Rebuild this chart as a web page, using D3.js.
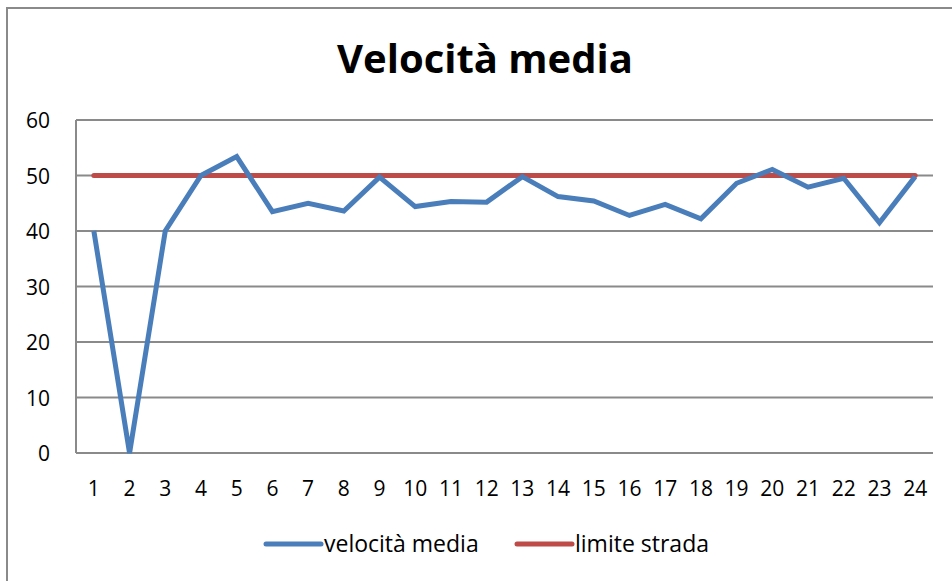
<!DOCTYPE html>
<html>
<head>
<meta charset="utf-8">
<script src="https://cdn.jsdelivr.net/npm/d3@7"></script>
<style>
  body { margin: 0; background: #fff; }
  text { font-family: "Open Sans", "Liberation Sans", sans-serif; fill: #000; }
</style>
</head>
<body>
<div id="chart"></div>
<script>
// data
var categories = d3.range(1, 25).map(String);
var velocita = [40, 0, 40, 50, 53.4, 43.5, 45, 43.6, 49.7, 44.4, 45.3, 45.2,
                49.8, 46.2, 45.4, 42.8, 44.8, 42.2, 48.6, 51.1, 47.9, 49.5, 41.5, 49.8];
var limite = categories.map(function() { return 50; });
var yTicks = [0, 10, 20, 30, 40, 50, 60];
var seriesNames = ["velocità media", "limite strada"];
var seriesColors = ["#4a7ebb", "#be4b48"];

var W = 952, H = 581;
var plot = {left: 76, right: 933, top: 120, bottom: 453};

var svg = d3.select("#chart").append("svg")
    .attr("width", W)
    .attr("height", H);

// outer frame
svg.append("rect")
    .attr("x", 7).attr("y", 8)
    .attr("width", W + 20).attr("height", H + 20)
    .attr("fill", "#fff")
    .attr("stroke", "#8a8a8a")
    .attr("stroke-width", 2);

var x = d3.scaleBand()
    .domain(categories)
    .range([plot.left, plot.right]);

var y = d3.scaleLinear()
    .domain([0, 60])
    .range([plot.bottom, plot.top]);

// title
svg.append("text")
    .attr("x", 485)
    .attr("y", 73)
    .attr("text-anchor", "middle")
    .style("font-size", "40px")
    .style("font-weight", "bold")
    .text("Velocità media");

// gridlines
svg.append("g")
  .selectAll("line")
  .data(yTicks)
  .enter().append("line")
    .attr("x1", plot.left).attr("x2", plot.right)
    .attr("y1", function(d) { return y(d); })
    .attr("y2", function(d) { return y(d); })
    .attr("stroke", "#8a8a8a")
    .attr("stroke-width", 2);

// left axis line
svg.append("line")
    .attr("x1", plot.left).attr("x2", plot.left)
    .attr("y1", plot.top).attr("y2", plot.bottom)
    .attr("stroke", "#8a8a8a")
    .attr("stroke-width", 2);

// y axis labels
var yAxis = svg.append("g")
    .attr("transform", "translate(" + (plot.left - 26) + ",0)")
    .call(d3.axisLeft(y).tickValues(yTicks).tickSize(0).tickPadding(0));
yAxis.select(".domain").remove();
yAxis.selectAll("text")
    .attr("dy", "0.36em")
    .style("font-size", "21px")
    .style("font-family", "'Open Sans', sans-serif");

// x axis labels
var xAxis = svg.append("g")
    .attr("transform", "translate(0," + plot.bottom + ")")
    .call(d3.axisBottom(x).tickSize(0).tickPadding(0));
xAxis.select(".domain").remove();
xAxis.selectAll("text")
    .attr("y", 43)
    .attr("dy", 0)
    .style("font-size", "21px")
    .style("font-family", "'Open Sans', sans-serif");

var line = d3.line()
    .x(function(d, i) { return x(categories[i]) + x.bandwidth() / 2; })
    .y(function(d) { return y(d); });

svg.append("path")
    .datum(limite)
    .attr("d", line)
    .attr("fill", "none")
    .attr("stroke", seriesColors[1])
    .attr("stroke-width", 5)
    .attr("stroke-linecap", "round");

svg.append("path")
    .datum(velocita)
    .attr("d", line)
    .attr("fill", "none")
    .attr("stroke", seriesColors[0])
    .attr("stroke-width", 5)
    .attr("stroke-linejoin", "miter");

// legend
var legendX = [266, 517];
var legend = svg.append("g")
  .selectAll("g")
  .data(seriesNames)
  .enter().append("g")
    .attr("transform", function(d, i) { return "translate(" + legendX[i] + ",544)"; });
legend.append("line")
    .attr("x1", 0).attr("x2", 55)
    .attr("stroke", function(d, i) { return seriesColors[i]; })
    .attr("stroke-width", 5)
    .attr("stroke-linecap", "round");
legend.append("text")
    .attr("x", 58)
    .attr("y", 8)
    .style("font-size", "23px")
    .text(function(d) { return d; });
</script>
</body>
</html>
